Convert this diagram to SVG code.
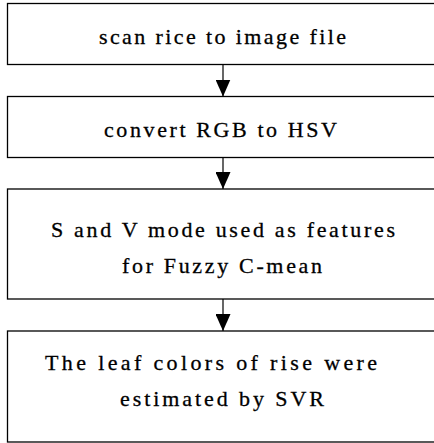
<svg xmlns="http://www.w3.org/2000/svg" width="434" height="443" viewBox="0 0 434 443">
<style>
.box{fill:#fff;stroke:#000;stroke-width:1.3}
.t{font-family:"Liberation Serif","Times New Roman",serif;font-size:22px;fill:#000;stroke:#000;stroke-width:0.3}
.c{stroke:#000;stroke-width:1.2;fill:none}
</style>
<defs>
<marker id="ah" viewBox="0 0 17 15" refX="17" refY="7.5" markerWidth="17" markerHeight="15" markerUnits="userSpaceOnUse" orient="auto">
<path d="M0,0 L17,7.5 L0,15 Z" fill="#000"/>
</marker>
</defs>
<rect width="434" height="443" fill="#fff"/>
<g id="n1"><rect class="box" x="7.5" y="3.5" width="440" height="61"/>
<text class="t" x="99" y="43.5" textLength="247" lengthAdjust="spacing">scan rice to image file</text></g>
<g id="n2"><rect class="box" x="7.5" y="96.5" width="440" height="61"/>
<text class="t" x="104" y="137" textLength="233" lengthAdjust="spacing">convert RGB to HSV</text></g>
<g id="n3"><rect class="box" x="7.5" y="189" width="440" height="110"/>
<text class="t" x="51" y="236.5" textLength="344" lengthAdjust="spacing">S and V mode used as features</text>
<text class="t" x="122" y="272.5" textLength="200" lengthAdjust="spacing">for Fuzzy C-mean</text></g>
<g id="n4"><rect class="box" x="7.5" y="331" width="440" height="111"/>
<text class="t" x="45" y="370" textLength="332" lengthAdjust="spacing">The leaf colors of rise were</text>
<text class="t" x="120" y="406" textLength="204" lengthAdjust="spacing">estimated by SVR</text></g>
<g id="connectors">
<line class="c" x1="223" y1="64.5" x2="223" y2="96.5" marker-end="url(#ah)"/>
<line class="c" x1="223" y1="157.5" x2="223" y2="189" marker-end="url(#ah)"/>
<line class="c" x1="223" y1="299" x2="223" y2="331" marker-end="url(#ah)"/>
</g>
</svg>
